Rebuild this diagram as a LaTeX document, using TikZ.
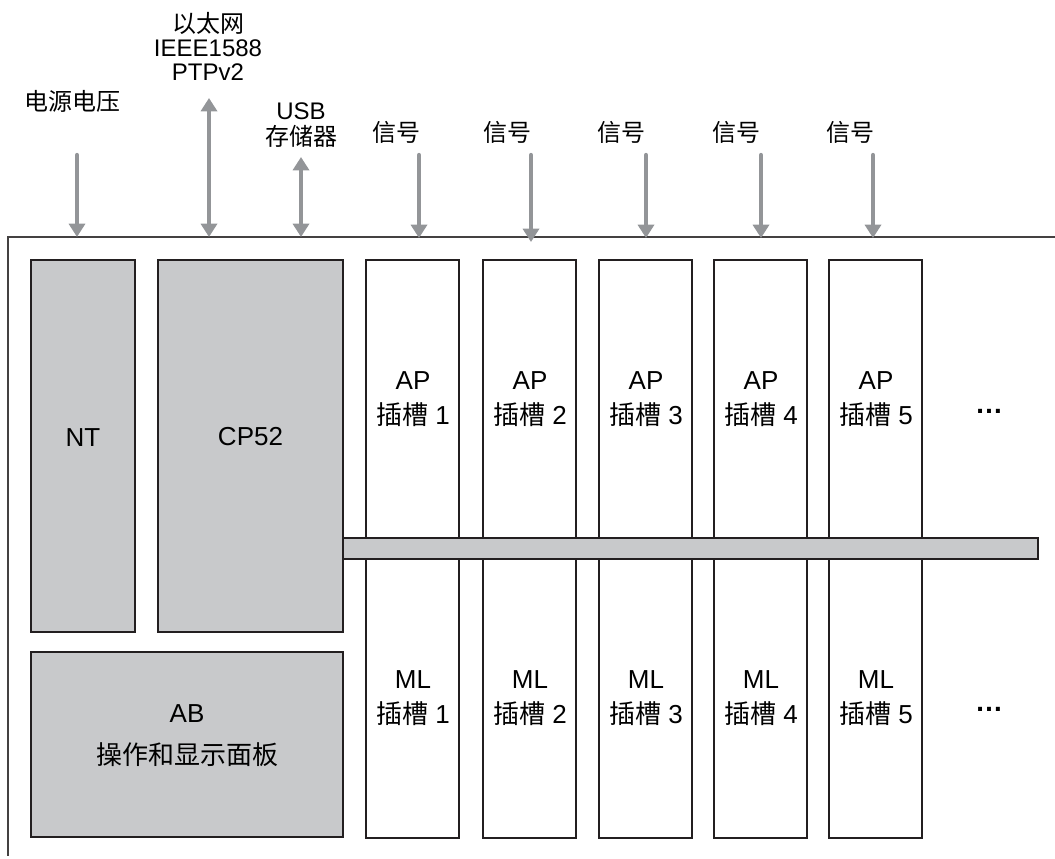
\documentclass[tikz,border=0pt]{standalone}
\usepackage{fontspec}
\setmainfont{Liberation Sans}
\newfontfamily\cjk{Noto Sans CJK SC}
\usetikzlibrary{arrows.meta,fit}
\definecolor{boxfill}{RGB}{200,201,203}
\definecolor{arrowgray}{RGB}{147,149,152}
\definecolor{edge}{RGB}{35,31,32}
\tikzset{
  gbox/.style={draw=edge, fill=boxfill, line width=1pt, inner sep=0pt, font=\fontsize{19.5}{32}\selectfont, align=center},
  slotbox/.style={draw=edge, fill=white, line width=1pt, inner sep=0pt},
  slotlbl/.style={font=\fontsize{19.5}{26}\selectfont, align=center, inner sep=0pt},
  dotlbl/.style={font=\fontsize{21}{26}\selectfont\bfseries, inner sep=0pt},
  toplbl/.style={font=\fontsize{18}{18}\selectfont, align=center, inner sep=0pt},
  frameline/.style={draw=edge!85, line width=1.1pt},
  arr/.style={draw=arrowgray, line width=3.2pt, line cap=round, -{Triangle[length=10pt,width=12pt]}},
  darr/.style={draw=arrowgray, line width=3.2pt, {Triangle[length=10pt,width=12pt]}-{Triangle[length=10pt,width=12pt]}},
}
\begin{document}
\begin{tikzpicture}[x=0.75pt,y=-0.75pt]
\useasboundingbox (0,0) rectangle (1055,858);

% frame (top and left edges)
\coordinate (frTR) at (1055,237);
\coordinate (frTL) at (8,237);
\coordinate (frBL) at (8,856);
\draw[frameline] (frTR) -- (frTL) -- (frBL);

% left modules
\node[gbox, fit={(31,260)(135,632)}] (NT) {NT};
\node[gbox, fit={(158,260)(343,632)}] (CP) {CP52};
\node[gbox, fit={(31,652)(343,837)}] (AB) {AB\\{\cjk 操作和显示面板}};

% slots
\foreach \i/\l in {1/366,2/483,3/599,4/714,5/829}{
  \node[slotbox, fit={(\l,260)({\l+93},838)}] (s\i) {};
  \node[slotlbl] (ap\i) at ({\l+47},399) {AP\\{\cjk 插槽} \i};
  \node[slotlbl] (ml\i) at ({\l+47},698) {ML\\{\cjk 插槽} \i};
}

% bus bar
\node[gbox, fit={(343,538)(1038,559)}] (bar) {};

% ellipses
\node[dotlbl, anchor=base] (dots1) at (989,413) {…};
\node[dotlbl, anchor=base] (dots2) at (989,711) {…};

% top labels
\node[toplbl] (lpow) at (72,101) {{\cjk 电源电压}};
\node[toplbl, font=\fontsize{18}{18}\selectfont] (leth) at (208,46) {{\cjk 以太网}\\IEEE1588\\PTPv2};
\node[toplbl, font=\fontsize{18}{19}\selectfont] (lusb) at (301,125) {USB\\{\cjk 存储器}};
\foreach \j/\x in {1/396,2/507,3/621,4/736,5/850}{
  \node[toplbl] (lsig\j) at (\x,132) {{\cjk 信号}};
}

% arrows
\coordinate (pows) at (77,155);  \coordinate (powe) at (77,237);
\draw[arr] (pows) -- (powe);
\coordinate (eths) at (209,98);  \coordinate (ethe) at (209,237);
\draw[darr] (eths) -- (ethe);
\coordinate (usbs) at (301,157); \coordinate (usbe) at (301,237);
\draw[darr] (usbs) -- (usbe);
\foreach \j/\x/\e in {1/419/238,2/531/242,3/646/238,4/761/238,5/873/238}{
  \coordinate (sigs\j) at (\x,155);
  \coordinate (sige\j) at (\x,\e);
  \draw[arr] (sigs\j) -- (sige\j);
}
\end{tikzpicture}
\end{document}
